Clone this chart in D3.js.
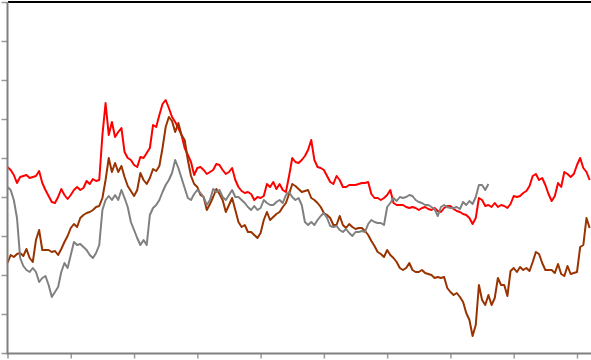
<!DOCTYPE html>
<html>
<head>
<meta charset="utf-8">
<script src="https://cdn.jsdelivr.net/npm/d3@7"></script>
<style>
  html, body { margin: 0; padding: 0; background: #fff; }
  svg { display: block; }
</style>
</head>
<body>
<svg id="chart" width="591" height="360"></svg>
<script>
// Three index series sampled at a common step (20 samples per x-axis tick)
const redSeries = [186,183,178,170,176,177,178,175,176,177,182,170,163,157,151,150,156,164,158,154,
  158,163,166,163,165,172,169,174,172,173,218,250,218,231,216,221,225,201,195,193,
  188,186,196,195,200,205,228,226,238,249,253,245,236,231,225,218,205,198,191,178,
  185,186,183,179,181,183,189,188,183,179,181,185,173,166,162,160,161,159,153,156,
  155,157,169,166,171,164,169,163,161,177,195,191,190,193,197,203,213,193,186,185,
  183,177,171,169,177,173,166,166,168,168,168,169,170,170,171,159,155,155,153,155,
  158,163,150,148,148,148,146,145,146,145,143,145,146,144,143,145,142,141,145,147,
  147,144,142,141,139,138,135,129,135,155,153,147,148,146,150,146,148,147,145,149,
  157,156,157,160,162,167,177,179,173,175,168,159,152,157,170,166,181,179,176,179,
  188,195,185,181,173];

const brownSeries = [90,98,96,99,100,97,104,95,91,113,123,103,103,103,101,102,98,104,111,117,
  125,129,126,135,138,140,141,143,146,147,155,173,195,181,190,181,187,176,167,162,
  157,163,180,173,169,175,184,182,187,205,226,236,232,221,230,218,213,193,177,169,
  166,158,156,143,149,156,164,159,153,141,148,155,143,131,126,128,121,121,118,115,
  120,133,141,133,136,139,141,146,150,159,169,167,164,161,162,163,155,153,150,146,
  140,138,135,128,128,137,128,125,129,126,124,125,125,122,118,112,107,101,99,96,
  103,98,95,91,85,83,85,90,83,81,81,83,80,79,78,75,76,75,76,65,
  61,58,60,56,51,40,33,17,28,68,53,48,58,48,55,75,68,68,57,82,
  85,81,86,83,85,82,91,101,99,90,83,83,83,80,89,79,77,87,79,80,
  81,106,108,135,125];

const graySeries = [166,163,153,135,95,87,83,81,85,81,71,75,77,68,56,61,66,81,90,85,
  98,111,108,109,106,103,98,95,100,108,143,153,157,153,158,153,163,155,146,131,
  123,115,108,113,108,138,145,148,153,161,168,173,180,193,185,175,165,155,153,159,
  163,160,156,148,153,164,161,163,156,153,158,163,156,156,153,150,146,143,147,143,
  145,153,150,148,148,151,153,150,158,161,156,153,155,148,131,128,131,128,133,137,
  140,135,127,126,127,123,121,124,120,117,121,121,122,121,129,133,131,130,130,128,
  146,150,155,152,156,155,156,158,157,153,151,150,148,148,146,144,137,146,148,146,
  145,145,146,144,151,148,152,149,156,168,168,163,169];

const seriesColors = ["#ff0000", "#993300", "#808080"];
const xTickValues = [0, 20, 40, 60, 80, 100, 120, 140, 160, 180];
const yTickValues = [0, 39, 78, 117, 156, 195, 234, 273, 312, 351];

const svg = d3.select("#chart");
const W = 591, H = 360;

const x = d3.scaleLinear().domain([0, 180]).range([7.5, 577]);
const y = d3.scaleLinear().domain([0, 351]).range([353, 2]);

// top border of the plot area
svg.append("line")
  .attr("x1", 8).attr("x2", W)
  .attr("y1", y(351)).attr("y2", y(351))
  .attr("stroke", "#000").attr("stroke-width", 2);

const line = d3.line()
  .x((d, i) => x(i))
  .y(d => y(d));

const plot = svg.append("g");
[redSeries, brownSeries, graySeries].forEach((s, k) => {
  plot.append("path")
    .datum(s)
    .attr("fill", "none")
    .attr("stroke", seriesColors[k])
    .attr("stroke-width", 2)
    .attr("stroke-linejoin", "round")
    .attr("d", line);
});

// axes: no labels, just the tick marks
const yAxis = svg.append("g")
  .attr("transform", `translate(${x(0)},0)`)
  .call(d3.axisLeft(y).tickValues(yTickValues).tickFormat("").tickSize(6).tickSizeOuter(0));

const xAxis = svg.append("g")
  .attr("transform", `translate(0,${y(0) + 0.5})`)
  .call(d3.axisBottom(x).tickValues(xTickValues).tickFormat("").tickSize(5).tickSizeOuter(0));

[yAxis, xAxis].forEach(g => {
  g.select(".domain").remove();
  g.selectAll(".tick line").attr("stroke", "#999").attr("stroke-width", 1.5);
});

// axis lines
svg.append("line")
  .attr("x1", x(0)).attr("x2", x(0))
  .attr("y1", y(351)).attr("y2", y(0) + 1.5)
  .attr("stroke", "#808080").attr("stroke-width", 2);
svg.append("line")
  .attr("x1", x(0)).attr("x2", W)
  .attr("y1", y(0) + 0.5).attr("y2", y(0) + 0.5)
  .attr("stroke", "#808080").attr("stroke-width", 2);
</script>
</body>
</html>
